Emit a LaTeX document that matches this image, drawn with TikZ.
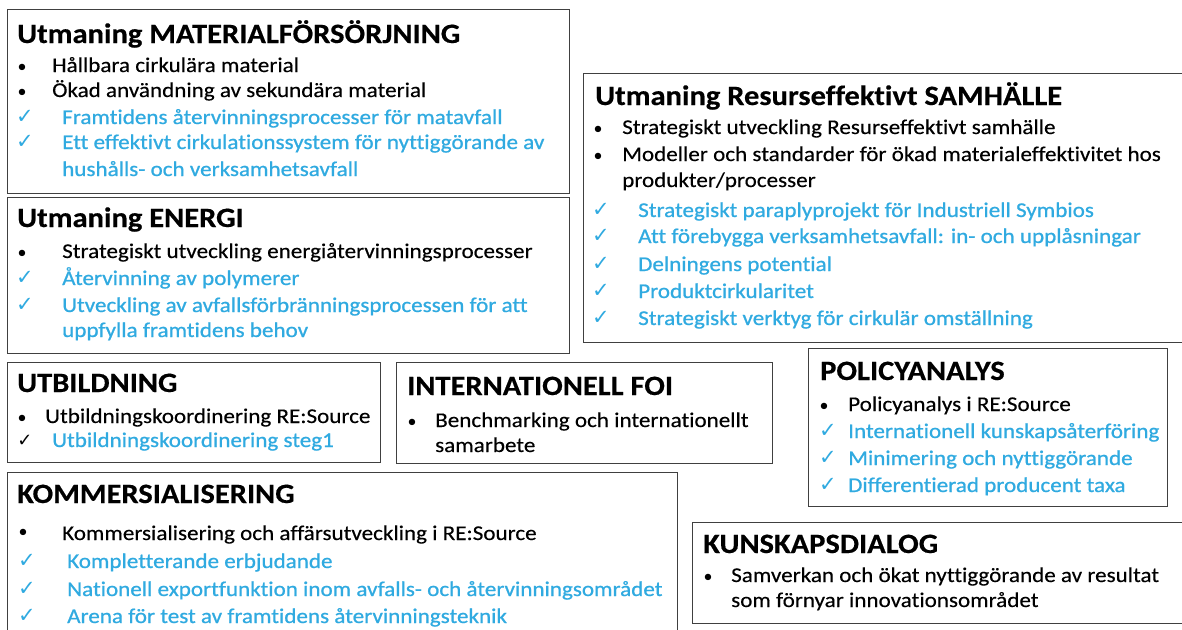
\documentclass[tikz,border=0pt]{standalone}
\usepackage{fontspec}
\setmainfont{Carlito}[Ligatures={NoCommon}]
\newfontfamily\symfont{DejaVu Sans}
\definecolor{boxgray}{RGB}{64,64,64}
\definecolor{itemblue}{RGB}{48,170,224}
\tikzset{
  panel/.style={draw=boxgray, line width=1.4pt, inner sep=0, anchor=north west, rectangle},
  ttl/.style={anchor=base west, inner sep=0, font=\bfseries\fontsize{28}{28}\selectfont\addfontfeature{FakeStretch=1.09,FakeBold=0.4}},
  blk/.style={anchor=base west, inner sep=0, font=\fontsize{21}{21}\selectfont\addfontfeature{FakeStretch=1.10,FakeBold=0.3}},
  blu/.style={anchor=base west, inner sep=0, text=itemblue, font=\fontsize{21}{21}\selectfont\addfontfeature{FakeStretch=1.10,FakeBold=0.8}},
  bul/.style={anchor=base, inner sep=0, font=\fontsize{18}{18}\selectfont},
  chk/.style={anchor=base, inner sep=0, text=itemblue, font=\symfont\fontsize{21}{21}\selectfont},
  chkk/.style={chk, text=black},
}
\begin{document}
\begin{tikzpicture}[x=1pt,y=-1pt]
\useasboundingbox (0,0) rectangle (1182,629);
% boxes
\node[panel, minimum width=562pt, minimum height=184pt] (bmat) at (7,9) {};
\node[panel, minimum width=562pt, minimum height=156pt] (bene) at (7,197) {};
\node[panel, minimum width=603pt, minimum height=269pt] (bsam) at (583,73) {};
\node[panel, minimum width=373pt, minimum height=100pt] (butb) at (7,362) {};
\node[panel, minimum width=376pt, minimum height=101pt] (bint) at (396,362) {};
\node[panel, minimum width=359pt, minimum height=158pt] (bpol) at (808,348) {};
\node[panel, minimum width=670pt, minimum height=170pt] (bkom) at (7,472) {};
\node[panel, minimum width=494pt, minimum height=101pt] (bkun) at (692,522) {};

% MATERIAL
\node[ttl] (tmat) at (17,43) {Utmaning MATERIALFÖRSÖRJNING};
\node[bul] (m1b) at (22,72) {•};
\node[blk] (m1) at (52,72) {Hållbara cirkulära material};
\node[bul] (m2b) at (22,97) {•};
\node[blk] (m2) at (52,97) {Ökad användning av sekundära material};
\node[chk] (m3c) at (25,123) {✓};
\node[blu] (m3) at (62,124) {Framtidens återvinningsprocesser för matavfall};
\node[chk] (m4c) at (25,148) {✓};
\node[blu] (m4) at (62,149) {Ett effektivt cirkulationssystem för nyttiggörande av};
\node[blu] (m5) at (62,176) {hushålls- och verksamhetsavfall};

% ENERGI
\node[ttl] (tene) at (17,227) {Utmaning ENERGI};
\node[bul] (e1b) at (22,258) {•};
\node[blk] (e1) at (62,258) {Strategiskt utveckling energiåtervinningsprocesser};
\node[chk] (e2c) at (25,284) {✓};
\node[blu] (e2) at (62,285) {Återvinning av polymerer};
\node[chk] (e3c) at (25,311) {✓};
\node[blu] (e3) at (62,312) {Utveckling av avfallsförbränningsprocessen för att};
\node[blu] (e4) at (62,337) {uppfylla framtidens behov};

% SAMHALLE
\node[ttl] (tsam) at (595,105) {Utmaning Resurseffektivt SAMHÄLLE};
\node[bul] (s1b) at (598,134) {•};
\node[blk] (s1) at (622,134) {Strategiskt utveckling Resurseffektivt samhälle};
\node[bul] (s2b) at (598,161) {•};
\node[blk] (s2) at (622,161) {Modeller och standarder för ökad materialeffektivitet hos};
\node[blk] (s3) at (622,187) {produkter/processer};
\node[chk] (s4c) at (601,216) {✓};
\node[blu] (s4) at (638,217) {Strategiskt paraplyprojekt för Industriell Symbios};
\node[chk] (s5c) at (601,242) {✓};
\node[blu] (s5) at (638,243) {Att förebygga verksamhetsavfall: in- och upplåsningar};
\node[chk] (s6c) at (601,270) {✓};
\node[blu] (s6) at (638,271) {Delningens potential};
\node[chk] (s7c) at (601,297) {✓};
\node[blu] (s7) at (638,298) {Produktcirkularitet};
\node[chk] (s8c) at (601,324) {✓};
\node[blu] (s8) at (638,325) {Strategiskt verktyg för cirkulär omställning};

% UTBILDNING
\node[ttl] (tutb) at (17,392) {UTBILDNING};
\node[bul] (u1b) at (22,423) {•};
\node[blk] (u1) at (45,423) {Utbildningskoordinering RE:Source};
\node[chkk, font=\symfont\fontsize{18}{18}\selectfont] (u2c) at (25,446) {✓};
\node[blu] (u2) at (52,447) {Utbildningskoordinering steg1};

% INTERNATIONELL
\node[ttl] (tint) at (407,395) {INTERNATIONELL FOI};
\node[bul] (i1b) at (412,427) {•};
\node[blk] (i1) at (435,427) {Benchmarking och internationellt};
\node[blk] (i2) at (435,452) {samarbete};

% POLICY
\node[ttl] (tpol) at (820,380) {POLICYANALYS};
\node[bul] (p1b) at (824,411) {•};
\node[blk] (p1) at (848,411) {Policyanalys i RE:Source};
\node[chk] (p2c) at (828,437) {✓};
\node[blu] (p2) at (848,438) {Internationell kunskapsåterföring};
\node[chk] (p3c) at (828,464) {✓};
\node[blu] (p3) at (848,465) {Minimering och nyttiggörande};
\node[chk] (p4c) at (828,491) {✓};
\node[blu] (p4) at (848,492) {Differentierad producent taxa};

% KOMMERSIALISERING
\node[ttl] (tkom) at (17,503) {KOMMERSIALISERING};
\node[bul] (k1b) at (23,537) {•};
\node[blk] (k1) at (62,540) {Kommersialisering och affärsutveckling i RE:Source};
\node[chk] (k2c) at (27,567) {✓};
\node[blu] (k2) at (67,568) {Kompletterande erbjudande};
\node[chk] (k3c) at (27,595) {✓};
\node[blu] (k3) at (67,596) {Nationell exportfunktion inom avfalls- och återvinningsområdet};
\node[chk] (k4c) at (27,622) {✓};
\node[blu] (k4) at (67,623) {Arena för test av framtidens återvinningsteknik};

% KUNSKAPSDIALOG
\node[ttl] (tkun) at (703,553) {KUNSKAPSDIALOG};
\node[bul] (d1b) at (708,582) {•};
\node[blk] (d1) at (731,582) {Samverkan och ökat nyttiggörande av resultat};
\node[blk] (d2) at (731,607) {som förnyar innovationsområdet};
\end{tikzpicture}
\end{document}
